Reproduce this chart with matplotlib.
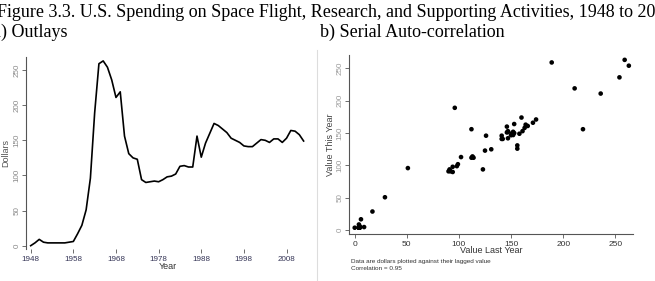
import matplotlib
matplotlib.use("Agg")
import matplotlib.pyplot as plt
from matplotlib.lines import Line2D

# ---- data ----
years = list(range(1948, 2013))
dollars = [0, 4, 9, 5, 4, 4, 4, 4, 4, 5,
           6, 17, 29, 51, 96, 189, 259, 263, 254, 236,
           211, 219, 156, 131, 125, 123, 94, 90, 91, 92,
           91, 94, 98, 99, 102, 113, 114, 112, 112, 156,
           126, 146, 160, 174, 171, 166, 161, 153, 150, 147,
           142, 141, 141, 146, 151, 150, 147, 152, 152, 147,
           153, 164, 163, 158, 149]
year_ticks = [1948, 1958, 1968, 1978, 1988, 1998, 2008]
dollar_ticks = [0, 50, 100, 150, 200, 250]
lag_ticks = [0, 50, 100, 150, 200, 250]

last_year = dollars[:-1]
this_year = dollars[1:]

W, H = 655, 281
fig = plt.figure(figsize=(W / 100, H / 100), dpi=100)
fig.patch.set_facecolor("white")

def px_axes(x0, x1, ytop, ybot):
    return fig.add_axes([x0 / W, 1 - ybot / H, (x1 - x0) / W, (ybot - ytop) / H])

sans = ["Liberation Sans", "DejaVu Sans"]
serif = ["Liberation Serif", "DejaVu Serif"]

# titles
fig.text(-3 / W, 1 - 17 / H, "Figure 3.3. U.S. Spending on Space Flight, Research, and Supporting Activities, 1948 to 2012",
         family=serif, fontsize=13, ha="left", va="baseline", color="black")
fig.text(-7 / W, 1 - 37 / H, "a) Outlays", family=serif, fontsize=13, ha="left", va="baseline")
fig.text(320 / W, 1 - 37 / H, "b) Serial Auto-correlation", family=serif, fontsize=13, ha="left", va="baseline")

# ---- left panel ----
ax1 = px_axes(26, 310, 56.7, 249)
ax1.plot(years, dollars, color="black", lw=1.2)
ax1.set_xlim(1946.9, 2013.5)
ax1.set_ylim(-4.7, 269)
for s in ["top", "right", "bottom"]:
    ax1.spines[s].set_visible(False)
ax1.spines["left"].set_color("#555555")
ax1.spines["left"].set_linewidth(0.8)
ax1.set_xticks(year_ticks)
ax1.set_yticks(dollar_ticks)
ax1.tick_params(axis="x", length=3, width=0.6, color="#555555", pad=2, labelsize=5.8, labelcolor="#333355")
ax1.tick_params(axis="y", length=3, width=0.6, color="#555555", pad=1, labelsize=5.8, labelcolor="#888888",
                labelrotation=90)
for lab in ax1.get_yticklabels():
    lab.set_family(sans)
    lab.set_va("center")
for lab in ax1.get_xticklabels():
    lab.set_family(sans)
ax1.set_xlabel("Year", family=sans, fontsize=6.5, labelpad=-1, color="#333333")
ax1.set_ylabel("Dollars", family=sans, fontsize=6.5, labelpad=2, color="#555555")
ax1.set_facecolor("none")

# panel separator
fig.add_artist(Line2D([317 / W, 317 / W], [0, 1 - 50 / H], transform=fig.transFigure,
                      color="#dddddd", lw=0.8))

# ---- right panel ----
ax2 = px_axes(349.3, 633, 55, 234)
ax2.scatter(last_year, this_year, s=11, color="black", edgecolors="none")
ax2.set_xlim(-5.2, 267)
ax2.set_ylim(-5.7, 270.5)
for s in ["top", "right"]:
    ax2.spines[s].set_visible(False)
for s in ["left", "bottom"]:
    ax2.spines[s].set_color("#555555")
    ax2.spines[s].set_linewidth(0.8)
ax2.set_xticks(lag_ticks)
ax2.set_yticks(dollar_ticks)
ax2.tick_params(axis="x", length=3, width=0.6, color="#555555", pad=2, labelsize=6, labelcolor="#333333")
ax2.tick_params(axis="y", length=3, width=0.6, color="#555555", pad=1, labelsize=5.8, labelcolor="#999999",
                labelrotation=90)
for lab in ax2.get_yticklabels():
    lab.set_family(sans)
    lab.set_va("center")
for lab in ax2.get_xticklabels():
    lab.set_family(sans)
ax2.set_xlabel("Value Last Year", family=sans, fontsize=6.5, labelpad=-1.5, color="#333333")
ax2.set_ylabel("Value This Year", family=sans, fontsize=6.5, labelpad=1, color="#444444")

fig.text(351 / W, 1 - 262 / H, "Data are dollars plotted against their lagged value",
         family=sans, fontsize=4.6, ha="left", va="center", color="#333333")
fig.text(351 / W, 1 - 269 / H, "Correlation = 0.95",
         family=sans, fontsize=4.6, ha="left", va="center", color="#333333")

fig.savefig("out.png", dpi=100)
